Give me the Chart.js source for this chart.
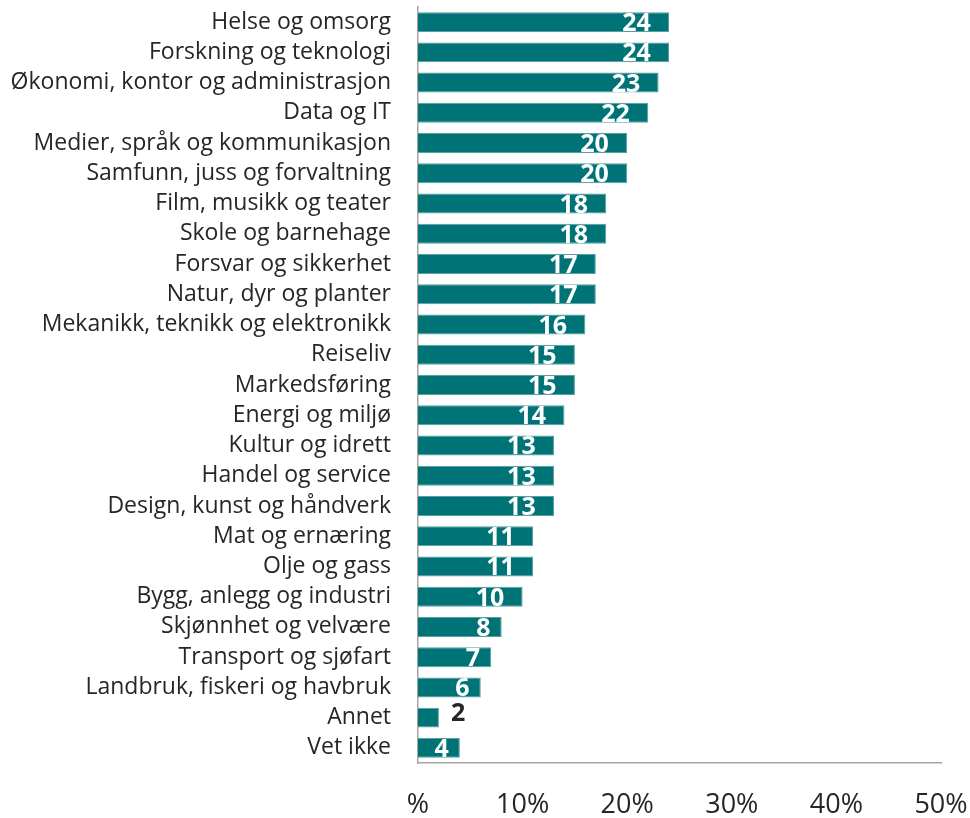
<!DOCTYPE html>
<html>
<head>
<meta charset="utf-8">
<script src="https://cdn.jsdelivr.net/npm/chart.js@4/dist/chart.umd.min.js"></script>
<style>
  html, body { margin: 0; padding: 0; background: #ffffff; }
  #wrap { width: 970px; height: 818px; }
</style>
</head>
<body>
<div id="wrap"><canvas id="c" width="970" height="818"></canvas></div>
<script>
const categories = [
  "Helse og omsorg",
  "Forskning og teknologi",
  "Økonomi, kontor og administrasjon",
  "Data og IT",
  "Medier, språk og kommunikasjon",
  "Samfunn, juss og forvaltning",
  "Film, musikk og teater",
  "Skole og barnehage",
  "Forsvar og sikkerhet",
  "Natur, dyr og planter",
  "Mekanikk, teknikk og elektronikk",
  "Reiseliv",
  "Markedsføring",
  "Energi og miljø",
  "Kultur og idrett",
  "Handel og service",
  "Design, kunst og håndverk",
  "Mat og ernæring",
  "Olje og gass",
  "Bygg, anlegg og industri",
  "Skjønnhet og velvære",
  "Transport og sjøfart",
  "Landbruk, fiskeri og havbruk",
  "Annet",
  "Vet ikke"
];
const values = [24, 24, 23, 22, 20, 20, 18, 18, 17, 17, 16, 15, 15, 14, 13, 13, 13, 11, 11, 10, 8, 7, 6, 2, 4];
const tickValues = [0, 10, 20, 30, 40, 50];
const tickLabels = ["%", "10%", "20%", "30%", "40%", "50%"];
const outsideLabels = ["Annet"];

const TEXT = "#262626";
const BAR = "#007377";

const valueLabelPlugin = {
  id: "valueLabels",
  afterDatasetsDraw(chart) {
    const ctx = chart.ctx;
    const meta = chart.getDatasetMeta(0);
    ctx.save();
    ctx.font = "bold 25px 'Open Sans'";
    ctx.textBaseline = "alphabetic";
    meta.data.forEach((bar, i) => {
      const txt = String(values[i]);
      const w = ctx.measureText(txt).width;
      if (outsideLabels.includes(categories[i])) {
        ctx.fillStyle = TEXT;
        ctx.textAlign = "left";
        ctx.fillText(txt, bar.x + 12, bar.y + 3);
      } else {
        ctx.fillStyle = "#ffffff";
        ctx.textAlign = "center";
        ctx.fillText(txt, bar.x - 4 - w, bar.y + 9);
      }
    });
    ctx.restore();
  }
};

function zeroPad(scale) {
  scale.paddingTop = 0;
  scale.paddingBottom = 0;
  scale.paddingLeft = 0;
  scale.paddingRight = 0;
}

new Chart(document.getElementById("c"), {
  type: "bar",
  data: {
    labels: categories,
    datasets: [{
      data: values,
      backgroundColor: BAR,
      borderColor: "#5a9ea0",
      borderWidth: 1,
      borderSkipped: "start",
      barPercentage: 0.66,
      categoryPercentage: 1.0
    }]
  },
  options: {
    indexAxis: "y",
    responsive: false,
    animation: false,
    devicePixelRatio: 1,
    layout: { padding: { top: 7, right: 29, bottom: 0, left: 0 } },
    plugins: {
      legend: { display: false },
      tooltip: { enabled: false }
    },
    scales: {
      y: {
        type: "category",
        grid: { display: false, drawTicks: false },
        border: { display: true, color: "#a6a6a6", width: 1.5 },
        ticks: {
          color: TEXT,
          font: { family: "'Open Sans'", size: 23 },
          padding: 27,
          autoSkip: false
        },
        afterFit(scale) { scale.width = 418; zeroPad(scale); }
      },
      x: {
        min: 0,
        max: 50,
        afterBuildTicks(scale) {
          scale.ticks = tickValues.map(v => ({ value: v }));
        },
        grid: { display: false, drawTicks: false },
        border: { display: true, color: "#a6a6a6", width: 1.5 },
        ticks: {
          color: TEXT,
          font: { family: "'Open Sans'", size: 27 },
          padding: 26,
          maxRotation: 0,
          autoSkip: false,
          callback(value) {
            const idx = tickValues.indexOf(value);
            return idx >= 0 ? tickLabels[idx] : "";
          }
        },
        afterFit(scale) { scale.height = 55; zeroPad(scale); }
      }
    }
  },
  plugins: [valueLabelPlugin]
});
</script>
</body>
</html>
